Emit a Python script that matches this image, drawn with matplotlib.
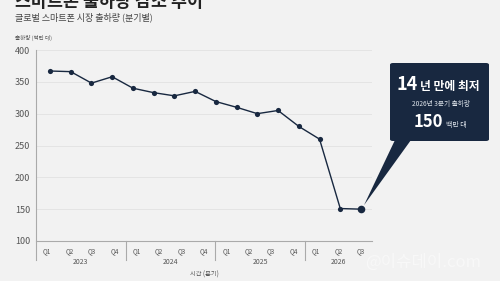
import matplotlib
matplotlib.use("Agg")
import matplotlib.pyplot as plt
from matplotlib.patches import FancyBboxPatch, Polygon
import numpy as np

plt.rcParams['font.family'] = ['Noto Sans CJK KR', 'DejaVu Sans']

# ---- data ----
shipments = [367, 366, 348, 358, 340, 333, 328, 335, 319, 310, 300, 305, 280, 260, 151, 150]
quarter_labels = ["Q1", "Q2", "Q3", "Q4", "Q1", "Q2", "Q3", "Q4",
                  "Q1", "Q2", "Q3", "Q4", "Q1", "Q2", "Q3"]
years = ["2023", "2024", "2025", "2026"]
year_sizes = [4, 4, 4, 3]
y_ticks = [100, 150, 200, 250, 300, 350, 400]

title = "스마트폰 출하량 감소 추이"
subtitle = "글로벌 스마트폰 시장 출하량 (분기별)"
ylabel = "출하량 (백만 대)"
xlabel = "시간 (분기)"

W, H = 500, 281
BG = "#f2f2f2"
NAVY = "#182840"
fig = plt.figure(figsize=(W / 100, H / 100), dpi=100, facecolor=BG)

def fx(px):
    return px / W

def fy(py):
    return 1 - py / H

ax = fig.add_axes([fx(36), fy(241), fx(372) - fx(36), fy(50) - fy(241)])
ax.set_facecolor(BG)
ax.set_xlim(0, len(quarter_labels))
ax.set_ylim(100, 400)
ax.set_yticks(y_ticks)
ax.set_yticklabels([str(v) for v in y_ticks], fontsize=6.5, color="#555555")
ax.tick_params(axis='y', length=0, pad=4)
ax.set_xticks([])
for s in ["top", "right", "left"]:
    ax.spines[s].set_visible(False)
ax.spines["bottom"].set_color("#aaaaaa")
ax.spines["bottom"].set_linewidth(0.8)
for v in y_ticks[1:]:
    ax.axhline(v, color="#e2e2e2", lw=0.6, zorder=0)

# category labels
trans = ax.get_xaxis_transform()
for i, q in enumerate(quarter_labels):
    ax.text(i + 0.5, -0.03, q, transform=trans, ha="center", va="top",
            fontsize=4.6, color="#555555")
start = 0
for yr, n in zip(years, year_sizes):
    ax.text(start + n / 2, -0.09, yr, transform=trans, ha="center", va="top",
            fontsize=5, color="#555555")
    ax.plot([start, start], [1.0 if start == 0 else 0, -0.10], transform=trans,
            color="#aaaaaa", lw=0.8, clip_on=False)
    start += n
ax.text(len(quarter_labels) / 2, -0.155, xlabel, transform=trans, ha="center",
        va="top", fontsize=4.5, color="#555555")

# data line on an index axis
ax2 = ax.twiny()
ax2.set_xlim(-0.675, 15.53)
ax2.set_ylim(100, 400)
ax2.axis("off")
idx = np.arange(len(shipments))
ax2.plot(idx, shipments, color=NAVY, lw=1.0, zorder=3)
ax2.scatter(idx[:-1], shipments[:-1], s=14, color=NAVY, zorder=4, linewidths=0)
ax2.scatter(idx[-1:], shipments[-1:], s=30, color=NAVY, zorder=4, linewidths=0)

# titles (title is partially cropped at the top, as in the reference)
fig.text(fx(15), fy(7), title, fontsize=12.5, fontweight="bold", color="#222222",
         ha="left", va="baseline")
fig.text(fx(15), fy(17), subtitle, fontsize=6.5, color="#444444", ha="left", va="center")
fig.text(fx(15), fy(38), ylabel, fontsize=4, color="#555555", ha="left", va="center")

# callout
box = FancyBboxPatch((fx(390), fy(141)), fx(489) - fx(390), fy(63) - fy(141),
                     boxstyle="round,pad=0,rounding_size=0.006",
                     transform=fig.transFigure, facecolor=NAVY, edgecolor="none",
                     zorder=5)
fig.patches.append(box)
fig.canvas.draw()
tip_disp = ax2.transData.transform((idx[-1], shipments[-1]))
tip = fig.transFigure.inverted().transform(tip_disp)
tip = (tip[0] + fx(3), tip[1] + 4 / H)
tri = Polygon([(fx(395), fy(140)), (fx(411), fy(140)), tip], closed=True,
              transform=fig.transFigure, facecolor=NAVY, edgecolor="none", zorder=5)
fig.patches.append(tri)

fig.text(fx(418), fy(90), "14", fontsize=13, fontweight="bold", color="white",
         ha="right", va="baseline", zorder=6)
fig.text(fx(420), fy(90), "년 만에 최저", fontsize=8.5, fontweight="bold", color="white",
         ha="left", va="baseline", zorder=6)
fig.text(fx(441), fy(104), "2026년 3분기 출하량", fontsize=4.8, color="#dde3ea",
         ha="center", va="center", zorder=6)
fig.text(fx(443), fy(127), "150", fontsize=12, fontweight="bold", color="white",
         ha="right", va="baseline", zorder=6)
fig.text(fx(446), fy(127), "백만 대", fontsize=5, color="#dde3ea",
         ha="left", va="baseline", zorder=6)

# watermark
fig.text(fx(423), fy(262), "@이슈데이.com", fontsize=12, color="#f8f8f8",
         ha="center", va="center", zorder=1)

fig.savefig("out.png", dpi=100, facecolor=BG)
